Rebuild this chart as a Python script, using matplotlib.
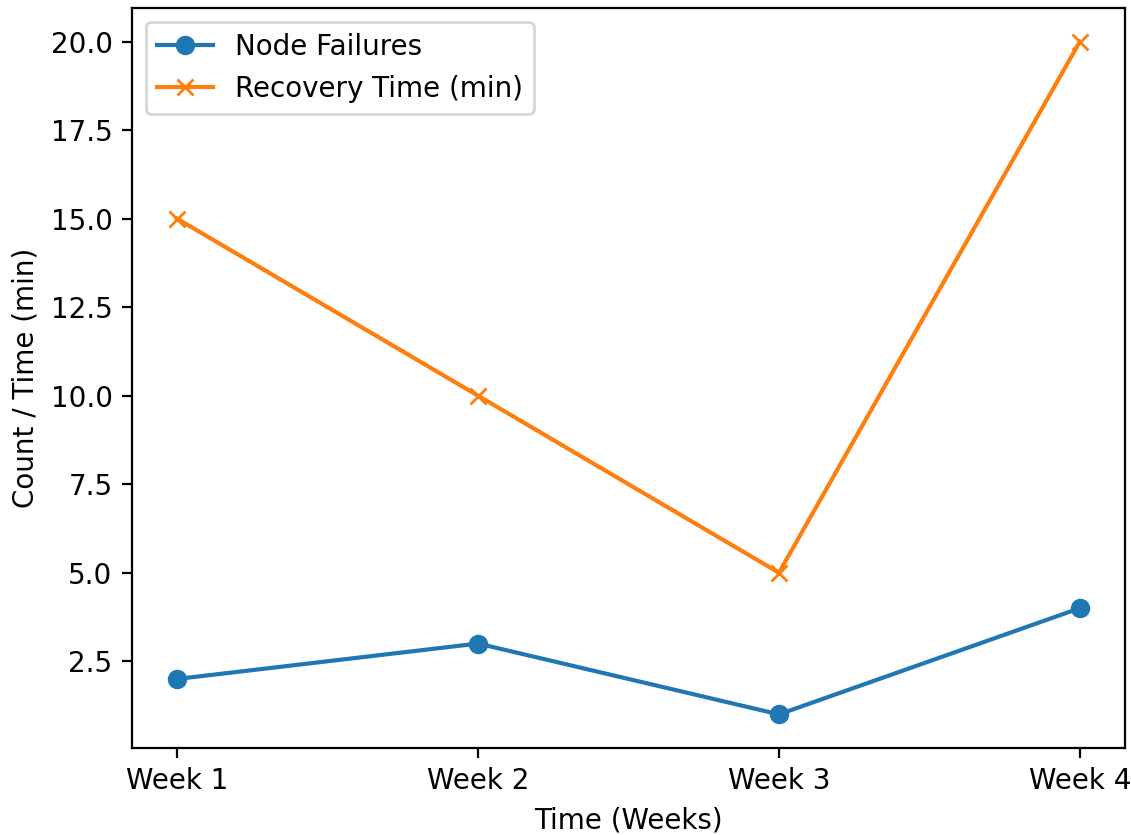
import matplotlib
matplotlib.use("Agg")
import matplotlib.pyplot as plt

weeks = ["Week 1", "Week 2", "Week 3", "Week 4"]
node_failures = [2, 3, 1, 4]
recovery_time = [15, 10, 5, 20]

dpi = 200
fig = plt.figure(figsize=(1131 / dpi, 835 / dpi), dpi=dpi)
ax = fig.add_axes([132 / 1131, 1 - 748 / 835, (1125 - 132) / 1131, (748 - 8) / 835])
ax.plot(weeks, node_failures, marker="o", label="Node Failures")
ax.plot(weeks, recovery_time, marker="x", label="Recovery Time (min)")
ax.set_xlabel("Time (Weeks)")
ax.set_ylabel("Count / Time (min)")
ax.legend(loc="upper left")
fig.savefig("out.png", dpi=dpi)
